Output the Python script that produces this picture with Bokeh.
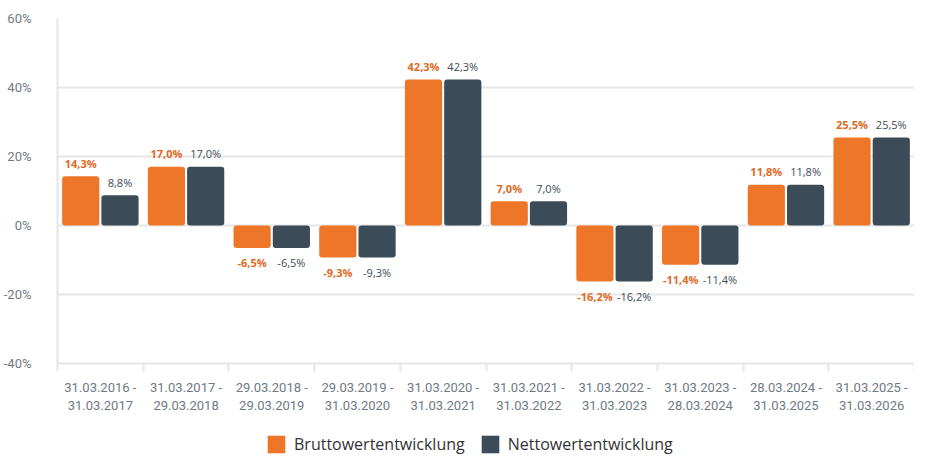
from bokeh.plotting import figure
from bokeh.layouts import column
from bokeh.models import FixedTicker, Range1d, Legend, LegendItem, ColumnDataSource
from bokeh.transform import dodge
from bokeh.core.properties import value
from bokeh.embed import file_html
from bokeh.resources import INLINE

periods = [
    "31.03.2016 -\n31.03.2017",
    "31.03.2017 -\n29.03.2018",
    "29.03.2018 -\n29.03.2019",
    "29.03.2019 -\n31.03.2020",
    "31.03.2020 -\n31.03.2021",
    "31.03.2021 -\n31.03.2022",
    "31.03.2022 -\n31.03.2023",
    "31.03.2023 -\n28.03.2024",
    "28.03.2024 -\n31.03.2025",
    "31.03.2025 -\n31.03.2026",
]
brutto = [14.3, 17.0, -6.5, -9.3, 42.3, 7.0, -16.2, -11.4, 11.8, 25.5]
netto = [8.8, 17.0, -6.5, -9.3, 42.3, 7.0, -16.2, -11.4, 11.8, 25.5]
y_ticks = [-40, -20, 0, 20, 40, 60]
y_tick_labels = ["-40%", "-20%", "0%", "20%", "40%", "60%"]
series_names = ["Bruttowertentwicklung", "Nettowertentwicklung"]

ORANGE = "#ee7629"
DARK = "#3b4b57"
GRID = "#e6e6e6"
TICK_TXT = "#6f7a83"

def fmt(v):
    return f"{v:.1f}".replace(".", ",") + "%"

n = len(periods)
centers = [i + 0.5 for i in range(n)]
src = ColumnDataSource(dict(
    x=centers,
    brutto=brutto,
    netto=netto,
    b_txt=[fmt(v) for v in brutto],
    n_txt=[fmt(v) for v in netto],
    b_off=[-13 if v >= 0 else 15 for v in brutto],
    n_off=[-13 if v >= 0 else 15 for v in netto],
))

p = figure(width=914, height=425, output_backend="svg", toolbar_location=None,
           x_range=Range1d(0, n), y_range=Range1d(-40, 60),
           min_border_left=46, min_border_right=0, min_border_top=18, min_border_bottom=62)
p.outline_line_color = None
p.background_fill_color = "white"
p.border_fill_color = "white"

off = 0.229
w = 0.434
rb = p.vbar(x=dodge("x", -off), top="brutto", bottom=0, width=w, source=src,
            fill_color=ORANGE, line_color=None, border_radius=3)
rn = p.vbar(x=dodge("x", off), top="netto", bottom=0, width=w, source=src,
            fill_color=DARK, line_color=None, border_radius=3)

p.text(x=dodge("x", -off), y="brutto", text="b_txt", y_offset="b_off", source=src,
       text_align="center", text_baseline="middle", text_color="#e06a1f",
       text_font=value("Open Sans"), text_font_size="11px", text_font_style="bold")
p.text(x=dodge("x", off), y="netto", text="n_txt", y_offset="n_off", source=src,
       text_align="center", text_baseline="middle", text_color=DARK,
       text_font=value("Open Sans"), text_font_size="11px")

# axes
p.xaxis.ticker = FixedTicker(ticks=centers, minor_ticks=list(range(n + 1)))
p.xaxis.major_label_overrides = {c: lab for c, lab in zip(centers, periods)}
p.xaxis.major_tick_line_color = None
p.xaxis.minor_tick_line_color = GRID
p.xaxis.minor_tick_line_width = 2
p.xaxis.minor_tick_in = 0
p.xaxis.minor_tick_out = 8
p.xaxis.axis_line_color = GRID
p.xaxis.axis_line_width = 2
p.xaxis.major_label_text_font = "Roboto"
p.xaxis.major_label_text_font_size = "13px"
p.xaxis.major_label_text_color = TICK_TXT
p.xaxis.major_label_standoff = 8

p.yaxis.ticker = FixedTicker(ticks=y_ticks)
p.yaxis.major_label_overrides = {t: lab for t, lab in zip(y_ticks, y_tick_labels)}
p.yaxis.major_tick_line_color = None
p.yaxis.minor_tick_line_color = None
p.yaxis.axis_line_color = GRID
p.yaxis.axis_line_width = 2
p.yaxis.major_label_text_font = "Roboto"
p.yaxis.major_label_text_font_size = "13px"
p.yaxis.major_label_text_color = TICK_TXT
p.yaxis.major_label_standoff = 20

p.xgrid.grid_line_color = None
p.ygrid.ticker = FixedTicker(ticks=y_ticks)
p.ygrid.grid_line_color = GRID
p.ygrid.grid_line_width = 2

# legend in its own strip below the chart (swatch glyphs have zero height)
lg = figure(width=914, height=30, output_backend="svg", toolbar_location=None,
            x_range=Range1d(0, 1), y_range=Range1d(0, 1),
            x_axis_location=None, y_axis_location=None,
            min_border_left=0, min_border_right=0, min_border_top=0, min_border_bottom=0)
lg.grid.visible = False
lg.outline_line_color = None
lb = lg.vbar(x=[0.5], top=[0], bottom=0, width=0.1, fill_color=ORANGE, line_color=None)
ln = lg.vbar(x=[0.5], top=[0], bottom=0, width=0.1, fill_color=DARK, line_color=None)
legend = Legend(items=[LegendItem(label=series_names[0], renderers=[lb]),
                       LegendItem(label=series_names[1], renderers=[ln])],
                orientation="horizontal", location=(208, 0))
legend.label_text_font = "Open Sans"
legend.label_text_font_size = "16px"
legend.label_text_color = "#333333"
legend.glyph_width = 22
legend.glyph_height = 22
legend.label_standoff = 7
legend.spacing = 14
legend.border_line_color = None
legend.background_fill_alpha = 0
legend.padding = 0
legend.margin = 0
lg.add_layout(legend)

open("out.html", "w").write(file_html(column(p, lg), INLINE))
